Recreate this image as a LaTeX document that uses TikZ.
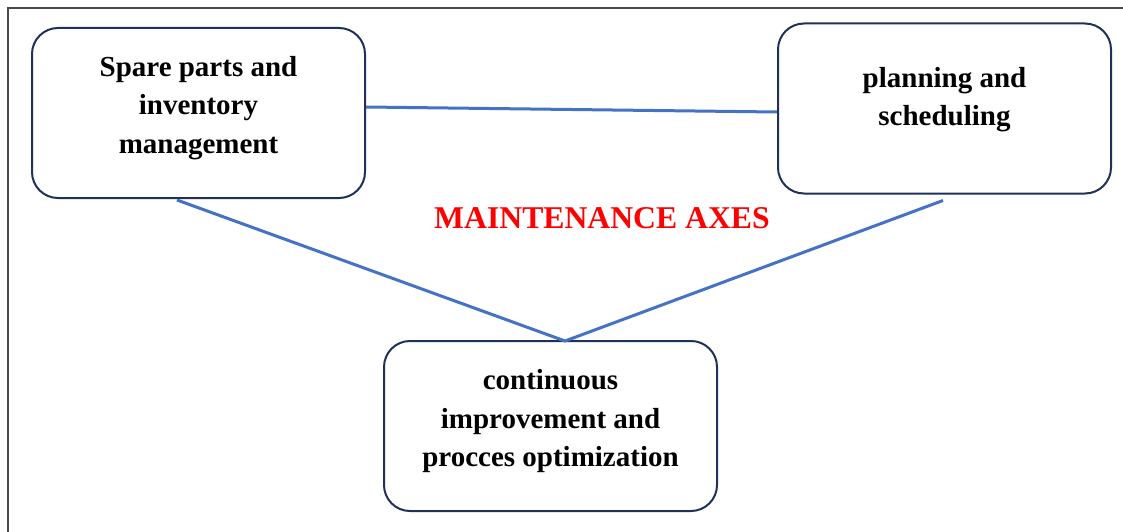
\documentclass[tikz,border=0pt]{standalone}
\usepackage{fontspec}
\setmainfont{Liberation Serif}
\usetikzlibrary{calc}
\definecolor{boxline}{HTML}{1F3158}
\definecolor{linkblue}{HTML}{4472C4}
\definecolor{framegray}{HTML}{4A4A4A}
\tikzset{
  axisbox/.style={draw=boxline, line width=2pt, rounded corners=26pt,
    minimum width=333pt, minimum height=170pt, inner sep=0pt},
  boxtext/.style={inner sep=0pt, align=center,
    font=\fontsize{29}{38.5}\selectfont\bfseries},
  link/.style={draw=linkblue, line width=3pt},
  title/.style={text=red, font=\fontsize{31.7}{38}\selectfont\bfseries}
}
\begin{document}
\begin{tikzpicture}[x=1pt,y=-1pt]
  \useasboundingbox (0,0) rectangle (1123,532);
  % page frame (left and top edges)
  \draw[framegray, line width=2.5pt] (8,532) -- (8,8) -- (1123,8);

  \node[axisbox] (spare) at (198.5,113) {};
  \node[axisbox] (plan) at (944.5,108.5) {};
  \node[axisbox] (improve) at (550.5,426) {};

  \node[boxtext, yshift=5pt] (spare-text) at (spare) {Spare parts and\\inventory\\management};
  \node[boxtext, yshift=9pt] (plan-text) at (plan) {planning and\\scheduling};
  \node[boxtext, yshift=4.5pt] (improve-text) at (improve) {continuous\\improvement and\\procces optimization};

  \node[title] (axes) at (602,218) {MAINTENANCE AXES};

  \draw[link] ([yshift=6pt]spare.east) -- ([yshift=-3.5pt]plan.west);
  \draw[link] ([xshift=-21.5pt,yshift=-1pt]spare.south) -- ([xshift=14.5pt,yshift=-1pt]improve.north)
              -- ([xshift=-1.5pt,yshift=-6pt]plan.south);
\end{tikzpicture}
\end{document}
